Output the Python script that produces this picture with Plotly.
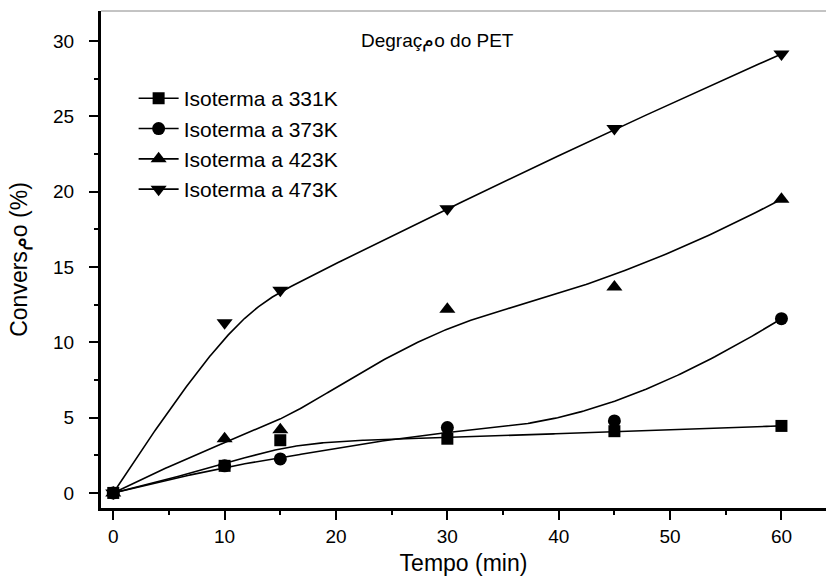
import numpy as np
import plotly.graph_objects as go

# ---- data ----
tempo = [0, 10, 15, 30, 45, 60]
iso_331 = [0, 1.8, 3.5, 3.6, 4.1, 4.45]
iso_373 = [0, 1.8, 2.26, 4.34, 4.78, 11.57]
iso_423 = [0, 3.6, 4.2, 12.2, 13.67, 19.5]
iso_473 = [0, 11.3, 13.45, 18.87, 24.2, 29.15]
series_names = ["Isoterma a 331K", "Isoterma a 373K", "Isoterma a 423K", "Isoterma a 473K"]
series_vals = [iso_331, iso_373, iso_423, iso_473]
symbols = ["square", "circle", "triangle-up", "triangle-down"]
sizes = [12, 13, 14, 14]
x_ticks = [0, 10, 20, 30, 40, 50, 60]
y_ticks = [0, 5, 10, 15, 20, 25, 30]


def bspline(px, py, k=3, num=400):
    """Clamped uniform cubic B-spline with the data points as control points."""
    px = np.asarray(px, float)
    py = np.asarray(py, float)
    n = len(px)
    knots = np.array([0] * (k + 1) + list(range(1, n - k)) + [n - k] * (k + 1), float)
    ts = np.linspace(0, n - k, num)
    ts[-1] -= 1e-9

    def basis(i, d, t):
        if d == 0:
            return 1.0 if knots[i] <= t < knots[i + 1] else 0.0
        a = 0.0
        den1 = knots[i + d] - knots[i]
        if den1 > 0:
            a = (t - knots[i]) / den1 * basis(i, d - 1, t)
        b = 0.0
        den2 = knots[i + d + 1] - knots[i + 1]
        if den2 > 0:
            b = (knots[i + d + 1] - t) / den2 * basis(i + 1, d - 1, t)
        return a + b

    xs, ys = [], []
    for t in ts:
        w = np.array([basis(i, k, t) for i in range(n)])
        xs.append(float(w @ px))
        ys.append(float(w @ py))
    return xs, ys


FONT = "Liberation Sans"
fig = go.Figure()

for i, (name, vals) in enumerate(zip(series_names, series_vals)):
    cx, cy = bspline(tempo, vals)
    grp = "g%d" % i
    fig.add_trace(go.Scatter(x=cx, y=cy, mode="lines", line=dict(color="black", width=1.6),
                             showlegend=False, legendgroup=grp, hoverinfo="skip"))
    fig.add_trace(go.Scatter(x=tempo, y=vals, mode="markers",
                             marker=dict(symbol=symbols[i], size=sizes[i], color="black"),
                             showlegend=False, legendgroup=grp, name=name))
    fig.add_trace(go.Scatter(x=[None], y=[None], mode="lines+markers", name=name,
                             line=dict(color="black", width=1.6),
                             marker=dict(symbol=symbols[i], size=sizes[i], color="black"),
                             legendgroup=grp, showlegend=True))

fig.add_shape(type="line", xref="paper", yref="paper", x0=0, x1=1, y0=1, y1=1,
              line=dict(color="#888888", width=1))

fig.add_annotation(text="Degraçمo do PET", xref="paper", yref="paper",
                   x=(437 - 101) / 725, y=(507.7 - 28) / 496.7, showarrow=False,
                   font=dict(family=FONT, size=19, color="black"))

fig.update_layout(
    width=826, height=578,
    margin=dict(l=101, r=0, t=11, b=70),
    paper_bgcolor="white", plot_bgcolor="white",
    font=dict(family=FONT, size=19, color="black"),
    legend=dict(x=0.045, y=0.865, xanchor="left", yanchor="top",
                font=dict(family=FONT, size=21, color="black"),
                bgcolor="rgba(0,0,0,0)", tracegroupgap=0, traceorder="grouped",
                itemwidth=40),
    xaxis=dict(range=[-1.1, 64], tickmode="array", tickvals=x_ticks,
               ticks="outside", ticklen=9, tickwidth=2, tickcolor="black",
               showline=True, linewidth=3, linecolor="black",
               showgrid=False, zeroline=False,
               minor=dict(tickmode="linear", tick0=0, dtick=5, ticks="outside", ticklen=4,
                          tickwidth=2, tickcolor="black", showgrid=False),
               title=dict(text="Tempo (min)", font=dict(family=FONT, size=23), standoff=10),
               tickfont=dict(family=FONT, size=19)),
    yaxis=dict(range=[-1.0, 32], tickmode="array", tickvals=y_ticks,
               ticks="outside", ticklen=9, tickwidth=2, tickcolor="black",
               showline=True, linewidth=3, linecolor="black",
               showgrid=False, zeroline=False, ticklabelstandoff=11,
               minor=dict(tickmode="linear", tick0=0, dtick=2.5, ticks="outside", ticklen=4,
                          tickwidth=2, tickcolor="black", showgrid=False),
               title=dict(text="Conversمo (%)", font=dict(family=FONT, size=23), standoff=20),
               tickfont=dict(family=FONT, size=19)),
)

fig.write_html("out.html")
